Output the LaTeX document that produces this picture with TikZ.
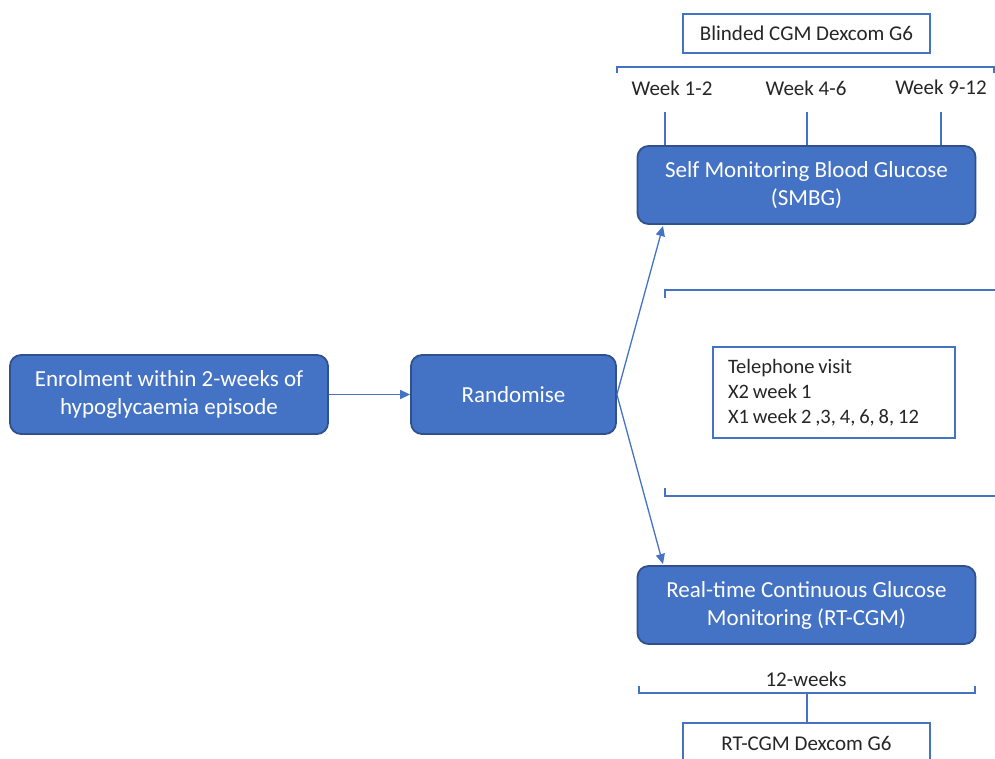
\documentclass[tikz,border=0pt]{standalone}
\usepackage{fontspec}
\setmainfont{Carlito}
\usetikzlibrary{arrows.meta}
\definecolor{boxblue}{HTML}{4472C4}
\definecolor{boxedge}{HTML}{2F528F}
\definecolor{ink}{HTML}{262626}
\newcommand\tightspace{\spaceskip=0.19em\relax}
\tikzset{
  armbox/.style={draw=boxedge,line width=1.8pt,fill=boxblue,rounded corners=11pt,text=white,align=center,inner sep=0pt,font=\fontsize{23}{28}\selectfont},
  plainbox/.style={draw=boxblue,line width=1.3pt,fill=white,text=ink,inner sep=0pt},
  thinline/.style={draw=boxblue,line width=1.3pt},
  lbl/.style={text=ink,inner sep=0pt}
}
\begin{document}
\begin{tikzpicture}[x=1pt,y=-1pt,font=\fontsize{21}{26}\selectfont]
\clip (0,0) rectangle (995,758);
\node[armbox,minimum width=318,minimum height=79] (enrol) at (169,394.5) {Enrolment within 2-weeks of\\hypoglycaemia episode};
\node[armbox,minimum width=205,minimum height=79] (rand) at (513.5,394.5) {Randomise};
\node[armbox,minimum width=338,minimum height=78] (smbg) at (806.5,185) {Self Monitoring Blood Glucose\\(SMBG)};
\node[armbox,minimum width=338,minimum height=78] (rtcgm) at (806.5,605) {Real-time Continuous Glucose\\Monitoring (RT-CGM)};
\draw[thinline,-{Triangle[length=10pt,width=9pt]}] (enrol) -- (rand);
\coordinate (smbgin) at (663,226); \coordinate (rtcgmin) at (663,564);
\draw[thinline,-{Triangle[length=10pt,width=9pt]}] (rand.east) -- (smbgin);
\draw[thinline,-{Triangle[length=10pt,width=9pt]}] (rand.east) -- (rtcgmin);
\node[plainbox,minimum width=247,minimum height=39] (blind) at (806.5,33.5) {Blinded CGM Dexcom G6};
\draw[thinline] (617,73)--(617,67)--(994,67)--(994,73);
\node[lbl] (w1) at (672,88) {Week 1-2};
\node[lbl] (w2) at (806,88) {Week 4-6};
\node[lbl] (w3) at (941,87) {Week 9-12};
\coordinate (t1) at (665,112); \coordinate (t2) at (807,112); \coordinate (t3) at (941,112);
\draw[thinline] (t1) -- (t1 |- smbg.north);
\draw[thinline] (t2) -- (t2 |- smbg.north);
\draw[thinline] (t3) -- (t3 |- smbg.north);
\draw[thinline] (665,298)--(665,290)--(996,290);
\draw[thinline] (665,488)--(665,496)--(996,496);
\node[plainbox,minimum width=242,minimum height=91,text width=212,inner xsep=15pt,align=left,font=\fontsize{20.5}{25}\selectfont] (phone) at (834,392.5) {\tightspace Telephone visit\\X2 week 1\\X1 week 2 ,3, 4, 6, 8, 12};
\node[lbl] (twelve) at (806,679) {12-weeks};
\draw[thinline] (639,686)--(639,693)--(975,693)--(975,686);
\coordinate (mid) at (807,693);
\node[plainbox,minimum width=247,minimum height=40] (rtdex) at (806.5,743) {RT-CGM Dexcom G6};
\draw[thinline] (mid) -- (mid |- rtdex.north);
\end{tikzpicture}
\end{document}
